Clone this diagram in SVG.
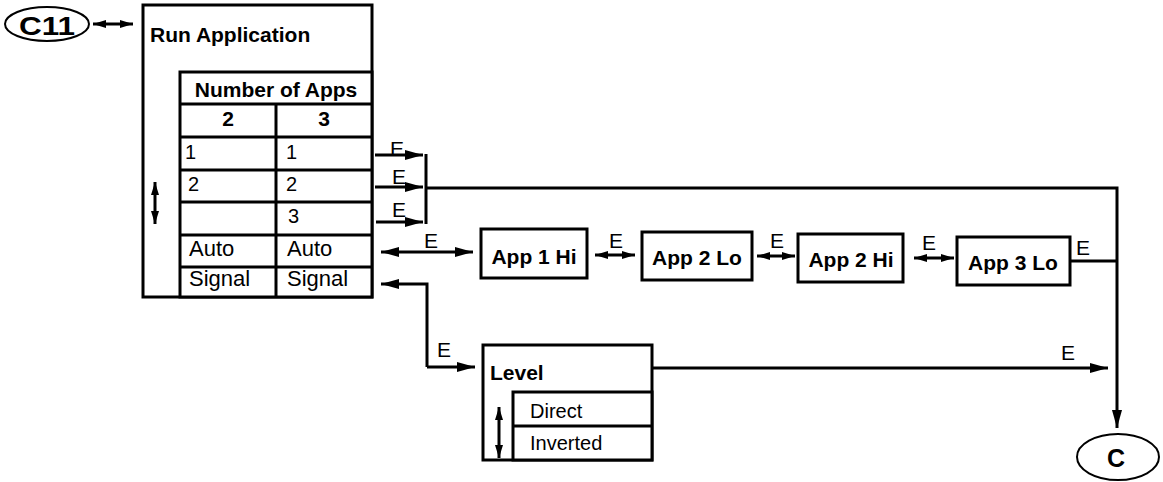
<svg xmlns="http://www.w3.org/2000/svg" width="1163" height="482" viewBox="0 0 1163 482">
<style>
.ln{fill:none;stroke:#000;stroke-width:3}
.bx{fill:#fff;stroke:#000;stroke-width:3}
.b{font-family:"Liberation Sans",Arial,sans-serif;font-weight:bold;font-size:21px;fill:#000}
.r{font-family:"Liberation Sans",Arial,sans-serif;font-size:22px;fill:#000}
.d{font-family:"Liberation Sans",Arial,sans-serif;font-size:20px;fill:#000}
.e{font-family:"Liberation Sans",Arial,sans-serif;font-size:21px;fill:#000}
</style>
<defs>
<marker id="big" markerUnits="userSpaceOnUse" markerWidth="20" markerHeight="12" refX="18" refY="5" orient="auto-start-reverse" viewBox="0 0 20 12"><path d="M0,0 L18,5 L0,10 z" fill="#000"/></marker>
<marker id="sm" markerUnits="userSpaceOnUse" markerWidth="14" markerHeight="10" refX="13" refY="4" orient="auto-start-reverse" viewBox="0 0 14 10"><path d="M0,0 L13,4 L0,8 z" fill="#000"/></marker>
</defs>

<g id="c11">
<ellipse cx="47" cy="24" rx="42" ry="17" fill="#fff" stroke="#000" stroke-width="2"/>
<text x="47" y="35" class="b" style="font-size:25px" text-anchor="middle" textLength="56" lengthAdjust="spacingAndGlyphs">C11</text>
</g>

<g id="run-application">
<rect x="143" y="5" width="229" height="292" class="bx"/>
<text x="150" y="42" class="b">Run Application</text>
<line x1="155" y1="182" x2="155" y2="224" class="ln" marker-start="url(#sm)" marker-end="url(#sm)"/>
</g>

<g id="apps-table">
<rect x="180" y="72" width="192" height="225" class="bx"/>
<line x1="180" y1="104" x2="372" y2="104" class="ln"/>
<line x1="180" y1="137" x2="372" y2="137" class="ln"/>
<line x1="180" y1="170" x2="372" y2="170" class="ln"/>
<line x1="180" y1="202" x2="372" y2="202" class="ln"/>
<line x1="180" y1="235" x2="372" y2="235" class="ln"/>
<line x1="180" y1="267" x2="372" y2="267" class="ln"/>
<line x1="276" y1="104" x2="276" y2="297" class="ln"/>
<text x="276" y="97" class="b" text-anchor="middle">Number of Apps</text>
<text x="228" y="126" class="b" text-anchor="middle">2</text>
<text x="324" y="126" class="b" text-anchor="middle">3</text>
<text x="185" y="159" class="d">1</text>
<text x="286" y="159" class="d">1</text>
<text x="188" y="191" class="d">2</text>
<text x="286" y="191" class="d">2</text>
<text x="288" y="223" class="d">3</text>
<text x="189" y="256" class="r">Auto</text>
<text x="287" y="256" class="r">Auto</text>
<text x="189" y="286" class="r">Signal</text>
<text x="287" y="286" class="r">Signal</text>
</g>

<g id="app1hi">
<rect x="481" y="229" width="106" height="49" class="bx"/>
<text x="534" y="264" class="b" text-anchor="middle">App 1 Hi</text>
</g>
<g id="app2lo">
<rect x="642" y="232" width="110" height="48" class="bx"/>
<text x="697" y="265" class="b" text-anchor="middle">App 2 Lo</text>
</g>
<g id="app2hi">
<rect x="798" y="234" width="105" height="48" class="bx"/>
<text x="851" y="267" class="b" text-anchor="middle">App 2 Hi</text>
</g>
<g id="app3lo">
<rect x="957" y="237" width="113" height="48" class="bx"/>
<text x="1013" y="270" class="b" text-anchor="middle">App 3 Lo</text>
</g>

<g id="level">
<rect x="483" y="345" width="169" height="115" class="bx"/>
<text x="490" y="380" class="b">Level</text>
<rect x="513" y="392" width="139" height="68" class="bx"/>
<line x1="513" y1="426" x2="652" y2="426" class="ln"/>
<text x="530" y="418" class="r" style="font-size:20px">Direct</text>
<text x="530" y="450" class="r" style="font-size:20px">Inverted</text>
<line x1="499" y1="407" x2="499" y2="458" class="ln" marker-start="url(#sm)" marker-end="url(#sm)"/>
</g>

<g id="c-end">
<ellipse cx="1118" cy="457" rx="41" ry="23" fill="#fff" stroke="#000" stroke-width="2"/>
<text x="1116" y="467" class="b" style="font-size:25px" text-anchor="middle">C</text>
</g>

<g id="connectors">
<line x1="93" y1="24" x2="133" y2="24" class="ln" marker-start="url(#sm)" marker-end="url(#sm)"/>
<line x1="375" y1="155" x2="423" y2="155" class="ln" marker-end="url(#big)"/>
<line x1="375" y1="187" x2="423" y2="187" class="ln" marker-end="url(#big)"/>
<line x1="376" y1="222" x2="423" y2="222" class="ln" marker-end="url(#big)"/>
<line x1="426" y1="154" x2="426" y2="224" class="ln"/>
<polyline points="426,188 1117,188 1117,428" class="ln" marker-end="url(#big)"/>
<line x1="381" y1="252" x2="473" y2="252" class="ln" marker-start="url(#big)" marker-end="url(#big)"/>
<polyline points="427,367 427,284 381,284" class="ln" marker-end="url(#big)"/>
<line x1="427" y1="367" x2="475" y2="367" class="ln" marker-end="url(#big)"/>
<line x1="595" y1="255" x2="635" y2="255" class="ln" marker-start="url(#sm)" marker-end="url(#sm)"/>
<line x1="757" y1="256" x2="795" y2="256" class="ln" marker-start="url(#sm)" marker-end="url(#sm)"/>
<line x1="914" y1="258" x2="954" y2="258" class="ln" marker-start="url(#sm)" marker-end="url(#sm)"/>
<line x1="1070" y1="261" x2="1117" y2="261" class="ln"/>
<line x1="652" y1="368" x2="1108" y2="368" class="ln" marker-end="url(#big)"/>
<text x="390" y="156" class="e">E</text>
<text x="392" y="184" class="e">E</text>
<text x="392" y="217" class="e">E</text>
<text x="424" y="248" class="e">E</text>
<text x="437" y="357" class="e">E</text>
<text x="609" y="248" class="e">E</text>
<text x="770" y="248" class="e">E</text>
<text x="922" y="250" class="e">E</text>
<text x="1076" y="255" class="e">E</text>
<text x="1061" y="360" class="e">E</text>
</g>
</svg>
